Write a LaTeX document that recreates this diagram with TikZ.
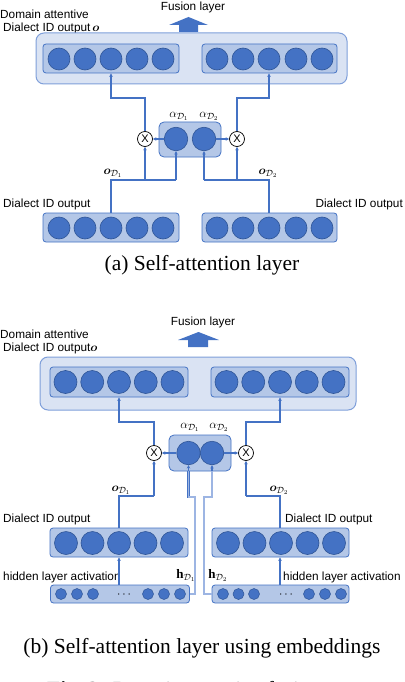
\documentclass[tikz,border=0pt]{standalone}
\usepackage{fontspec}
\setmainfont{Liberation Serif}
\setsansfont{Liberation Sans}
\usepackage{amsmath,bm}
\usetikzlibrary{arrows.meta,calc}
\definecolor{cfill}{HTML}{4472C4}
\definecolor{cdraw}{HTML}{2F5597}
\definecolor{ibox}{HTML}{B4C7E7}
\definecolor{iboxd}{HTML}{4472C4}
\definecolor{obox}{HTML}{DAE3F3}
\definecolor{oboxd}{HTML}{7F9FDA}
\definecolor{lnc}{HTML}{4472C4}
\definecolor{dblc}{HTML}{9DB5E3}
\begin{document}
\begin{tikzpicture}[x=1pt,y=-1pt,
 unit/.style={circle,draw=cdraw,fill=cfill,line width=0.6pt,minimum size=22pt,inner sep=0pt},
 aunit/.style={unit,minimum size=23.5pt},
 sunit/.style={circle,draw=cdraw,fill=cfill,line width=0.5pt,minimum size=11pt,inner sep=0pt},
 lay/.style={draw=iboxd,fill=ibox,rounded corners=3pt,line width=0.8pt,inner sep=0pt},
 outer/.style={draw=oboxd,fill=obox,rounded corners=8pt,line width=1pt,inner sep=0pt},
 mult/.style={circle,draw=black,fill=white,line width=0.7pt,minimum size=15pt,inner sep=0pt,font=\sffamily\fontsize{11}{11}\selectfont},
 ln/.style={draw=lnc,line width=1.1pt},
 dln/.style={draw=lnc,line width=0.7pt,double=dblc,double distance=1.1pt},
 arr/.style={ln,-{Stealth[length=3.5pt,width=3.5pt]}},
 lbl/.style={font=\sffamily\fontsize{11.8}{14}\selectfont,inner sep=0pt},
 mlbl/.style={font=\fontsize{13}{15}\selectfont,inner sep=0pt},
 captext/.style={font=\fontsize{21.5}{24}\selectfont,inner sep=0pt},
 fus/.style={fill=cfill,draw=none}]
\useasboundingbox[fill=white] (0,0) rectangle (404,682);

% ================= (a) =================
\node[lbl] (fusA) at (193,7) {Fusion layer};
\fill[fus] (169,25) -- (188.5,17) -- (208,25) -- (198,25) -- (198,32) -- (179,32) -- (179,25) -- cycle;
\node[lbl,anchor=west] (domA1) at (0,14) {Domain attentive};
\node[lbl,anchor=west] (domA2) at (3,28) {Dialect ID output\,$\bm{o}$};

\node[outer,minimum width=311pt,minimum height=51pt] (outA) at (191.5,58.5) {};
\node[lay,minimum width=136pt,minimum height=29pt] (inAL) at (111,58.5) {};
\node[lay,minimum width=135pt,minimum height=29pt] (inAR) at (269.5,58.5) {};
\foreach \i/\x in {1/59,2/85,3/111,4/137,5/163} \node[unit] (cAL\i) at (\x,59) {};
\foreach \i/\x in {1/217,2/243,3/269,4/296,5/322} \node[unit] (cAR\i) at (\x,59) {};

\node[lay,rounded corners=5pt,minimum width=62pt,minimum height=35pt] (attA) at (190,139.5) {};
\node[aunit] (aA1) at (176,139) {};
\node[aunit] (aA2) at (204,139) {};
\node[mlbl] (alA1) at (179,116) {$\alpha_{\mathcal{D}_1}$};
\node[mlbl] (alA2) at (209,116) {$\alpha_{\mathcal{D}_2}$};
\node[mult] (xA1) at (145,139) {X};
\node[mult] (xA2) at (237,139) {X};

\node[lay,minimum width=136pt,minimum height=29pt] (botAL) at (111,227.5) {};
\node[lay,minimum width=135pt,minimum height=29pt] (botAR) at (269.5,227.5) {};
\foreach \i/\x in {1/59,2/85,3/111,4/137,5/163} \node[unit] (cBL\i) at (\x,228) {};
\foreach \i/\x in {1/217,2/243,3/269,4/296,5/322} \node[unit] (cBR\i) at (\x,228) {};

\node[mlbl] (oA1) at (113,173) {$\bm{o}_{\mathcal{D}_1}$};
\node[mlbl] (oA2) at (268,173) {$\bm{o}_{\mathcal{D}_2}$};
\node[lbl,anchor=west] (dA1) at (3,204) {Dialect ID output};
\node[lbl,anchor=east] (dA2) at (403,204) {Dialect ID output};
\node[captext] (capA) at (202,265) {(a) Self-attention layer};

\coordinate (tA1) at (145,98);
\coordinate (tA2) at (237,98);
\coordinate (jA1) at (111,180);
\coordinate (jA2) at (269,180);
\draw[arr] (xA1.north) -- (tA1) -| (cAL3 |- inAL.south);
\draw[arr] (xA2.north) -- (tA2) -| (cAR3 |- inAR.south);
\draw[ln] (cBL3 |- botAL.north) -- (jA1) -- (aA1 |- jA1);
\draw[arr] (aA1 |- jA1) -- (aA1.south);
\draw[arr] (xA1 |- jA1) -- (xA1.south);
\draw[ln] (cBR3 |- botAR.north) -- (jA2) -- (aA2 |- jA2);
\draw[arr] (aA2 |- jA2) -- (aA2.south);
\draw[arr] (xA2 |- jA2) -- (xA2.south);
\draw[arr] (aA1.west) -- (xA1.east);
\draw[arr] (aA2.east) -- (xA2.west);

% ================= (b) =================
\node[lbl] (fusB) at (203,322) {Fusion layer};
\fill[fus] (178,340) -- (198.5,332) -- (219,340) -- (208,340) -- (208,347) -- (188,347) -- (188,340) -- cycle;
\node[lbl,anchor=west] (domB1) at (0,334) {Domain attentive};
\node[lbl,anchor=west] (domB2) at (3,348) {Dialect ID output$\bm{o}$};

\node[outer,minimum width=316pt,minimum height=53pt] (outB) at (198,383.5) {};
\node[lay,minimum width=138pt,minimum height=30pt] (inBL) at (119,382) {};
\node[lay,minimum width=138pt,minimum height=30pt] (inBR) at (280,382) {};
\foreach \i/\x in {1/65.5,2/92.25,3/119,4/145.75,5/172.5} \node[unit,minimum size=23pt] (dAL\i) at (\x,382) {};
\foreach \i/\x in {1/226.5,2/253.25,3/280,4/306.75,5/333.5} \node[unit,minimum size=23pt] (dAR\i) at (\x,382) {};

\node[lay,rounded corners=5pt,minimum width=62pt,minimum height=36pt] (attB) at (200,453) {};
\node[aunit] (aB1) at (188.5,453) {};
\node[aunit] (aB2) at (212,453) {};
\node[mlbl] (alB1) at (190,427) {$\alpha_{\mathcal{D}_1}$};
\node[mlbl] (alB2) at (219,427) {$\alpha_{\mathcal{D}_2}$};
\node[mult] (xB1) at (154,453) {X};
\node[mult] (xB2) at (246,453) {X};

\node[mlbl] (oB1) at (121,490) {$\bm{o}_{\mathcal{D}_1}$};
\node[mlbl] (oB2) at (279,490) {$\bm{o}_{\mathcal{D}_2}$};
\node[lbl,anchor=west] (dB1) at (3,519) {Dialect ID output};
\node[lbl,anchor=west] (dB2) at (285,519) {Dialect ID output};

\node[lay,minimum width=138pt,minimum height=29pt] (dBL) at (119,542.5) {};
\node[lay,minimum width=137pt,minimum height=29pt] (dBR) at (280.5,542.5) {};
\foreach \i/\x in {1/66,2/92.5,3/119,4/145.5,5/172} \node[unit,minimum size=23pt] (eL\i) at (\x,543) {};
\foreach \i/\x in {1/228,2/254.5,3/281,4/307.5,5/334} \node[unit,minimum size=23pt] (eR\i) at (\x,543) {};

\node[lay,minimum width=139pt,minimum height=18pt] (hBL) at (120,594) {};
\node[lay,minimum width=137pt,minimum height=18pt] (hBR) at (280.5,594) {};
\foreach \i/\x in {1/61,2/77,3/93,4/148,5/164,6/180} \node[sunit] (hL\i) at (\x,594) {};
\foreach \i/\x in {1/223,2/238.5,3/254,4/309,5/325,6/341} \node[sunit] (hR\i) at (\x,594) {};
\node[mlbl] (dotL) at (125,595) {$\cdots$};
\node[mlbl] (dotR) at (287,595) {$\cdots$};

\node[lbl,anchor=west] (hlB1) at (3,577) {hidden layer activation};
\node[lbl,anchor=west] (hlB2) at (283,577) {hidden layer activation};
\node[mlbl] (hB1) at (186,575) {$\mathbf{h}_{\mathcal{D}_1}$};
\node[mlbl] (hB2) at (218,575) {$\mathbf{h}_{\mathcal{D}_2}$};

\node[captext] (capB) at (202,648) {(b) Self-attention layer using embeddings};
\node[captext,anchor=base west] (fig) at (47,696) {\textbf{Fig.\ 2:} Domain attentive fusion};

\coordinate (tB1) at (154,422);
\coordinate (tB2) at (246,422);
\coordinate (jB1) at (119,496);
\coordinate (jB2) at (280,496);
\draw[arr] (xB1.north) -- (tB1) -| (inBL.south);
\draw[arr] (xB2.north) -- (tB2) -| (inBR.south);
\draw[ln] (eL3 |- dBL.north) -- (jB1) -- (xB1 |- jB1);
\draw[arr] (xB1 |- jB1) -- (xB1.south);
\draw[ln] (dBR.north -| jB2) -- (jB2) -- (xB2 |- jB2);
\draw[arr] (xB2 |- jB2) -- (xB2.south);
\draw[arr] (aB1.west) -- (xB1.east);
\draw[arr] (aB2.east) -- (xB2.west);

\draw[arr] (hBL.north -| eL3) -- (dBL.south -| eL3);
\draw[arr] (hBR.north -| jB2) -- (dBR.south -| jB2);

\coordinate (kB1) at (195,594);
\coordinate (kB2) at (204,594);
\coordinate (mB1) at (195,497);
\coordinate (mB2) at (204,497);
\draw[dln] (hBL.east) -- (kB1) -- (mB1) -- (aB1 |- mB1) -- (aB1 |- attB.south);
\draw[arr] (aB1 |- attB.south) -- (aB1.south);
\draw[dln] (hBR.west) -- (kB2) -- (mB2) -- (aB2 |- mB2) -- (aB2 |- attB.south);
\draw[arr] (aB2 |- attB.south) -- (aB2.south);
\end{tikzpicture}
\end{document}
